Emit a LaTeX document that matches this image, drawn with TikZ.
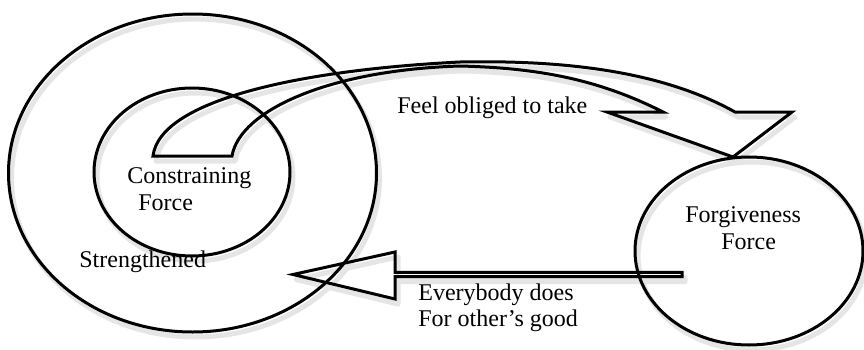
\documentclass[tikz,border=0pt]{standalone}
\usepackage{fontspec}
\setmainfont{Liberation Serif}
\usetikzlibrary{shapes.geometric}
\begin{document}
\begin{tikzpicture}[x=0.5pt,y=-0.5pt,
  ring/.style={draw, ellipse, line width=1.5pt, inner sep=0pt},
  ringshade/.style={draw=black!10, ellipse, line width=2.5pt, inner sep=0pt},
  blockarrow/.style={draw, line width=1.5pt, line join=miter},
  arrowshade/.style={draw=black!10, line width=2.5pt, line join=round},
  lbl/.style={font=\fontsize{12}{14}\selectfont, inner sep=0pt, anchor=base west}
]
\useasboundingbox (0,0) rectangle (864,349);

% soft shadows
\begin{scope}[shift={(3,5)}]
  \node[ringshade, minimum width=184pt, minimum height=159pt] at (192.5,173) {};
  \node[ringshade, minimum width=98pt, minimum height=84pt] at (192,172) {};
  \node[ringshade, minimum width=114pt, minimum height=94pt] at (749,251) {};
  \draw[arrowshade] (153,156) .. controls (160,100) and (300,70) .. (460,62)
    .. controls (560,60) and (660,70) .. (735,112)
    -- (792,112) -- (733,157) -- (607,112) -- (663,112)
    .. controls (600,80) and (540,68) .. (460,66)
    .. controls (330,70) and (240,110) .. (232,156) -- cycle;
  \draw[arrowshade] (682,272.3) -- (395,272.3) -- (395,252) -- (293,274.5)
    -- (395,299) -- (395,276.7) -- (682,276.7) -- cycle;
\end{scope}

% circles
\node[ring, minimum width=184pt, minimum height=159pt] (outer) at (192.5,173) {};
\node[ring, minimum width=98pt, minimum height=84pt] (inner) at (192,172) {};
\node[ring, minimum width=114pt, minimum height=94pt] (forgive) at (749,251) {};

% curved block arrow: Constraining -> Forgiveness
\coordinate (cbaseL) at (153,156);
\coordinate (cbaseR) at (232,156);
\coordinate (ctip) at (733,157);
\draw[blockarrow] (cbaseL) .. controls (160,100) and (300,70) .. (460,62)
  .. controls (560,60) and (660,70) .. (735,112)
  -- (792,112) -- (ctip) -- (607,112) -- (663,112)
  .. controls (600,80) and (540,68) .. (460,66)
  .. controls (330,70) and (240,110) .. (cbaseR) -- cycle;

% straight block arrow: Forgiveness -> Strengthened
\coordinate (stail) at (682,274.5);
\coordinate (stip) at (293,274.5);
\draw[blockarrow] (682,272.3) -- (395,272.3) -- (395,252) -- (stip)
  -- (395,299) -- (395,276.7) -- (682,276.7) -- cycle;

% labels
\node[lbl] (t1) at (127,183) {Constraining};
\node[lbl] (t2) at (138,210) {Force};
\node[lbl] (t3) at (79,267) {Strengthened};
\node[lbl] (t4) at (397,113) {Feel obliged to take};
\node[lbl] (t5) at (685,222) {Forgiveness};
\node[lbl] (t6) at (721,249) {Force};
\node[lbl] (t7) at (418,300) {Everybody does};
\node[lbl] (t8) at (418,326.7) {For other’s good};
\end{tikzpicture}
\end{document}
